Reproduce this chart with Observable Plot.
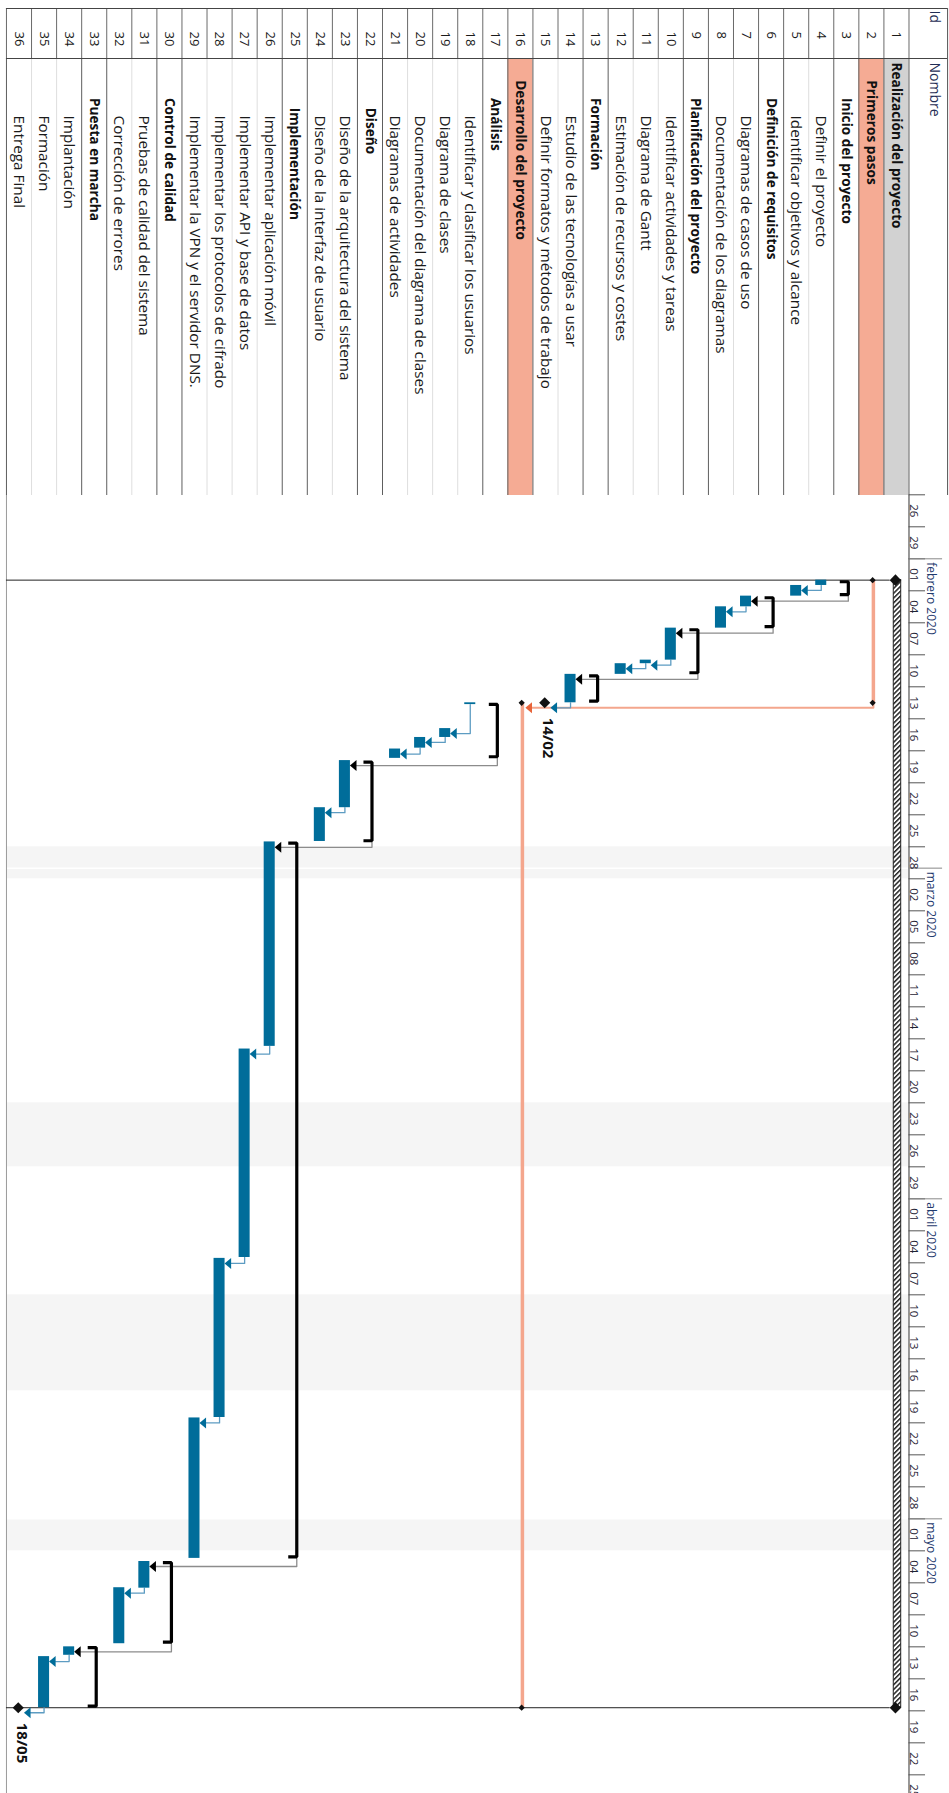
<!DOCTYPE html>
<html><head><meta charset="utf-8">
<script src="https://cdn.jsdelivr.net/npm/d3@7"></script>
<script src="https://cdn.jsdelivr.net/npm/@observablehq/plot@0.6"></script>
<style>
body{margin:0;background:#fff;}
#wrap{position:relative;width:949px;height:1793px;overflow:hidden;}
#wrap svg{position:absolute;left:0;top:0;}
</style></head><body><div id="wrap"></div>
<script>
// ---------------- data ----------------
const ids = [1,2,3,4,5,6,7,8,9,10,11,12,13,14,15,16,17,18,19,20,21,22,23,24,25,26,27,28,29,30,31,32,33,34,35,36];
const names = ["Realización del proyecto","Primeros pasos","Inicio del proyecto","Definir el proyecto","Identificar objetivos y alcance","Definición de requisitos","Diagramas de casos de uso","Documentación de los diagramas","Planificación del proyecto","Identificar actividades y tareas","Diagrama de Gantt","Estimación de recursos y costes","Formación","Estudio de las tecnologías a usar","Definir formatos y métodos de trabajo","Desarrollo del proyecto","Análisis","Identificar y clasificar los usuarios","Diagrama de clases","Documentación del diagrama de clases","Diagramas de actividades","Diseño","Diseño de la arquitectura del sistema","Diseño de la interfaz de usuario","Implementación","Implementar aplicación móvil","Implementar API y base de datos","Implementar los protocolos de cifrado","Implementar la VPN y el servidor DNS.","Control de calidad","Pruebas de calidad del sistema","Corrección de errores","Puesta en marcha","Implantación","Formación","Entrega Final"];
const kinds = ["project","phase","summary","task","task","summary","task","task","summary","task","task","task","summary","task","milestone","phase","summary","task","task","task","task","summary","task","task","summary","task","task","task","task","summary","task","task","summary","task","task","milestone"];
const levels = [0,1,2,3,3,2,3,3,2,3,3,3,2,3,3,1,2,3,3,3,3,2.55,3,3,2.55,3,3,3,3,2,3,3,2,3,3,3];
const starts = ["2020-02-03T00:00","2020-02-03T00:00","2020-02-03T00:00","2020-02-03T00:00","2020-02-03T12:00","2020-02-04T12:00","2020-02-04T12:00","2020-02-05T12:00","2020-02-07T12:00","2020-02-07T12:00","2020-02-10T12:00","2020-02-10T20:00","2020-02-11T20:00","2020-02-11T20:00","2020-02-14T12:00","2020-02-14T12:00","2020-02-14T12:00","2020-02-14T12:00","2020-02-16T22:00","2020-02-17T18:00","2020-02-18T20:00","2020-02-19T22:00","2020-02-19T22:00","2020-02-24T08:00","2020-02-27T12:00","2020-02-27T13:00","2020-03-17T23:00","2020-04-06T14:00","2020-04-21T13:00","2020-05-04T23:00","2020-05-05T00:00","2020-05-07T11:00","2020-05-12T22:00","2020-05-13T00:00","2020-05-13T22:00","2020-05-18T17:00"];
const ends = ["2020-05-18T17:00","2020-02-14T12:00","2020-02-04T12:00","2020-02-03T12:00","2020-02-04T12:00","2020-02-07T12:00","2020-02-05T12:00","2020-02-07T12:00","2020-02-11T20:00","2020-02-10T12:00","2020-02-10T20:00","2020-02-11T20:00","2020-02-14T12:00","2020-02-14T12:00","2020-02-14T12:00","2020-05-18T17:00","2020-02-19T17:00","2020-02-14T16:00","2020-02-17T18:00","2020-02-18T18:00","2020-02-19T17:00","2020-02-27T14:00","2020-02-24T08:00","2020-02-27T12:00","2020-05-04T17:00","2020-03-17T17:00","2020-04-06T12:00","2020-04-21T12:00","2020-05-04T17:00","2020-05-12T17:00","2020-05-07T12:00","2020-05-12T17:00","2020-05-18T17:00","2020-05-13T19:00","2020-05-18T17:00","2020-05-18T17:00"];
const linkFrom = [4,7,10,11,14,18,19,20,23,26,27,28,31,34,35,3,6,9,17,22,25,30,2];
const linkTo   = [5,8,11,12,15,19,20,21,24,27,28,29,32,35,36,7,10,14,23,26,31,34,16];
const holidayStart = ["2020-02-28","2020-03-23","2020-04-10","2020-05-01"];
const holidayEnd   = ["2020-03-02","2020-03-29","2020-04-19","2020-05-04"];
const monthStarts = ["2020-02-01","2020-03-01","2020-04-01","2020-05-01"];
const monthNames  = ["febrero 2020","marzo 2020","abril 2020","mayo 2020"];
const axisStart = "2020-01-26", axisEnd = "2020-05-27";

// ---------------- build ----------------
const D = s => new Date(s + (s.length > 10 ? "Z" : "T00:00Z"));
const tasks = ids.map((id, i) => ({id, name: names[i], kind: kinds[i], level: levels[i], start: D(starts[i]), end: D(ends[i])}));
const byId = new Map(tasks.map(t => [t.id, t]));
const isSum = k => k === "project" || k === "phase" || k === "summary";
const holidays = holidayStart.map((s, i) => ({start: D(s), end: D(holidayEnd[i])}));
const months = monthStarts.map((s, i) => ({date: D(s), label: monthNames[i]}));
const dayTicks = d3.utcDay.range(D(axisStart), D("2020-05-28"), 3);

const FONT = "Open Sans";
const xScale = {type: "linear", domain: [0.5, 36.5], range: [908.485, 5.965], axis: null};
const PX_DAY = 10.667;
const pxToMs = px => px / PX_DAY * 864e5;
const shift = (d, px) => new Date(+d + pxToMs(px));

const BLUE = "#006d9a", LBLUE = "#5d9cc2", SALMON = "#f4a68d", ORANGE = "#e8643a";

const leftTri = {draw(ctx) { ctx.moveTo(-3.3, 0); ctx.lineTo(3.3, -5.5); ctx.lineTo(3.3, 5.5); ctx.closePath(); }};

// links
const linkPts = [], arrows = [];
linkFrom.forEach((a, k) => {
  const p = byId.get(a), s = byId.get(linkTo[k]);
  const type = p.kind === "task" ? "task" : p.kind;
  const yl = shift(new Date(Math.max(+p.end, +s.start)), 5);
  const xs = type === "task" ? p.id : p.id - 0.08;
  const xe = s.id - 0.46;
  linkPts.push({k, type, x: xs, y: p.end}, {k, type, x: xs, y: yl}, {k, type, x: xe, y: yl});
  arrows.push({type, x: s.id - 0.33, y: yl});
});

// summary brackets
const brPts = [];
tasks.filter(t => t.kind === "summary").forEach(t => {
  const a = shift(t.start, 1.6), b = shift(t.end, -1.6);
  brPts.push({id: t.id, x: t.id + 0.26, y: a}, {id: t.id, x: t.id - 0.08, y: a}, {id: t.id, x: t.id - 0.08, y: b}, {id: t.id, x: t.id + 0.26, y: b});
});

const project = tasks.filter(t => t.kind === "project");
const phases = tasks.filter(t => t.kind === "phase");
const bars = tasks.filter(t => t.kind === "task");
const miles = tasks.filter(t => t.kind === "milestone");
const chartTop = D(axisStart), chartBottom = D(axisEnd);

const chart = Plot.plot({
  width: 949, height: 1793, margin: 0,
  x: xScale,
  y: {type: "utc", domain: [chartTop, chartBottom], range: [494.3, 494.3 + 122 * PX_DAY], axis: null},
  style: {background: "#fff", fontFamily: FONT},
  marks: [
    Plot.rect(holidays, {x1: 0.5, x2: 36.5, y1: "start", y2: "end", fill: "#f5f5f5"}),
    Plot.ruleY(months, {y: "date", x1: 0.5, x2: 36.5, stroke: "#fff", strokeWidth: 1.5}),
    Plot.ruleX([36.5], {y1: chartTop, y2: chartBottom, stroke: "#9a9a9a"}),
    Plot.ruleX([0.5], {y1: chartTop, y2: chartBottom, stroke: "#333"}),
    Plot.ruleY(dayTicks, {y: d => d, x1: 0.5, x2: -0.16, stroke: "#555"}),
    Plot.ruleY(months, {y: "date", x1: 0.5, x2: -0.84, stroke: "#888"}),
    Plot.text(dayTicks, {y: d => d3.utcHour.offset(d, 36), x: 0.3, text: d => d3.utcFormat("%d")(d), rotate: 90, fontSize: 11.5, fill: "#1e2233", fontFamily: FONT}),
    Plot.text(months, {y: "date", x: -0.37, text: "label", rotate: 90, textAnchor: "start", dy: 3.5, fontSize: 12, fill: "#1f3a6e", fontFamily: FONT}),
    // project start / end lines
    Plot.ruleY(project, {y: "start", x1: 36.5, x2: 1.25, stroke: "#222"}),
    Plot.ruleY(project, {y: "end", x1: 36.5, x2: 1.25, stroke: "#222"}),
    // phase lines
    Plot.ruleX(phases, {x: d => d.id - 0.08, y1: "start", y2: "end", stroke: SALMON, strokeWidth: 3.5}),
    // links
    Plot.line(linkPts.filter(d => d.type === "phase"), {x: "x", y: "y", z: "k", stroke: SALMON, strokeWidth: 2}),
    Plot.line(linkPts.filter(d => d.type === "summary"), {x: "x", y: "y", z: "k", stroke: "#8c8c8c", strokeWidth: 1.3}),
    Plot.line(linkPts.filter(d => d.type === "task"), {x: "x", y: "y", z: "k", stroke: LBLUE, strokeWidth: 1.3}),
    // brackets
    Plot.line(brPts, {x: "x", y: "y", z: "id", stroke: "#000", strokeWidth: 3.2, strokeLinejoin: "miter", strokeLinecap: "butt"}),
    // bars
    Plot.rect(bars, {x1: d => d.id + 0.22, x2: d => d.id - 0.22, y1: "start", y2: "end", fill: BLUE}),
    // project bar
    Plot.rect(project, {x1: d => d.id + 0.107, x2: d => d.id - 0.19, y1: "start", y2: "end", fill: "url(#hatch)", stroke: "#222", strokeWidth: 1}),
    Plot.dot(project, {x: d => d.id + 0.04, y: "start", symbol: "diamond2", r: 5.2, fill: "#111", stroke: "none"}),
    Plot.dot(project, {x: d => d.id + 0.04, y: "end", symbol: "diamond2", r: 5.2, fill: "#111", stroke: "none"}),
    Plot.dot(phases, {x: d => d.id - 0.05, y: "start", symbol: "diamond2", r: 2.8, fill: "#111", stroke: "none"}),
    Plot.dot(phases, {x: d => d.id - 0.05, y: "end", symbol: "diamond2", r: 2.8, fill: "#111", stroke: "none"}),
    // arrows
    Plot.dot(arrows.filter(d => d.type === "task"), {x: "x", y: "y", symbol: leftTri, fill: BLUE, stroke: "none"}),
    Plot.dot(arrows.filter(d => d.type === "summary"), {x: "x", y: "y", symbol: leftTri, fill: "#000", stroke: "none"}),
    Plot.dot(arrows.filter(d => d.type === "phase"), {x: "x", y: "y", symbol: leftTri, fill: ORANGE, stroke: "none"}),
    // milestones
    Plot.dot(miles, {x: d => d.id + 0.03, y: "start", symbol: "diamond2", r: 5, fill: "#111", stroke: "none"}),
    Plot.text(miles, {x: d => d.id - 0.1, y: "start", text: d => d3.utcFormat("%d/%m")(d.start), rotate: 90, textAnchor: "start", dy: 15, fontSize: 15, fontWeight: "bold", fill: "#111", fontFamily: FONT})
  ]
});

// hatch pattern for the project bar
const defs = d3.select(chart).insert("defs", ":first-child");
const pat = defs.append("pattern").attr("id", "hatch").attr("patternUnits", "userSpaceOnUse")
  .attr("width", 3.4).attr("height", 3.4).attr("patternTransform", "rotate(45)");
pat.append("rect").attr("width", 3.4).attr("height", 3.4).attr("fill", "#fff");
pat.append("rect").attr("width", 1.5).attr("height", 3.4).attr("fill", "#222");

// ---------------- table ----------------
const TOP = 8, ID_BOTTOM = 58, BOTTOM = 495, HEAD_R = -1.04;
const bounds = d3.range(0.5, 37, 1).map(b => {
  const l = byId.get(b - 0.5), r = byId.get(b + 0.5);
  const dark = !l || !r || isSum(l.kind) || isSum(r.kind);
  return {b, dark};
});

const table = Plot.plot({
  width: 949, height: 495, margin: 0,
  x: xScale,
  y: {domain: [0, 495], range: [0, 495], axis: null},
  style: {background: "transparent", fontFamily: FONT},
  marks: [
    Plot.rect(project, {x1: d => d.id + 0.5, x2: d => d.id - 0.5, y1: ID_BOTTOM, y2: BOTTOM, fill: "#d2d2d2"}),
    Plot.rect(phases, {x1: d => d.id + 0.5, x2: d => d.id - 0.5, y1: ID_BOTTOM, y2: BOTTOM, fill: "#f5ab94"}),
    Plot.ruleX(bounds.filter(d => !d.dark), {x: "b", y1: ID_BOTTOM, y2: BOTTOM, stroke: "#dedede"}),
    Plot.ruleX(bounds.filter(d => d.dark), {x: "b", y1: ID_BOTTOM, y2: BOTTOM, stroke: "#5e5e5e"}),
    Plot.ruleX(bounds, {x: "b", y1: TOP, y2: ID_BOTTOM, stroke: "#6a6a6a"}),
    Plot.ruleX([HEAD_R], {y1: TOP, y2: BOTTOM, stroke: "#555"}),
    Plot.ruleY([TOP, ID_BOTTOM, BOTTOM], {y: d => d, x1: 36.5, x2: HEAD_R, stroke: "#444"}),
    Plot.text(["Id"], {x: -0.52, y: TOP + 2, text: d => d, rotate: 90, textAnchor: "start", fontSize: 14, fill: "#1f2d55", fontFamily: FONT}),
    Plot.text(["Nombre"], {x: -0.52, y: ID_BOTTOM + 4, text: d => d, rotate: 90, textAnchor: "start", fontSize: 14, fill: "#1f2d55", fontFamily: FONT}),
    Plot.text(tasks, {x: "id", y: 31, text: d => String(d.id), rotate: 90, textAnchor: "start", fontSize: 13, fill: "#1a1a1a", fontFamily: FONT}),
    Plot.text(tasks.filter(t => !isSum(t.kind)), {x: "id", y: d => ID_BOTTOM + 4 + d.level * 17.7, text: "name", rotate: 90, textAnchor: "start", fontSize: 15.3, fill: "#1a1a1a", fontFamily: FONT}),
    Plot.text(tasks.filter(t => isSum(t.kind)), {x: "id", y: d => ID_BOTTOM + 4 + d.level * 17.7, text: "name", rotate: 90, textAnchor: "start", fontSize: 13.7, fontWeight: "bold", fill: "#111", fontFamily: FONT})
  ]
});

const wrap = document.getElementById("wrap");
wrap.appendChild(chart);
wrap.appendChild(table);
</script></body></html>
